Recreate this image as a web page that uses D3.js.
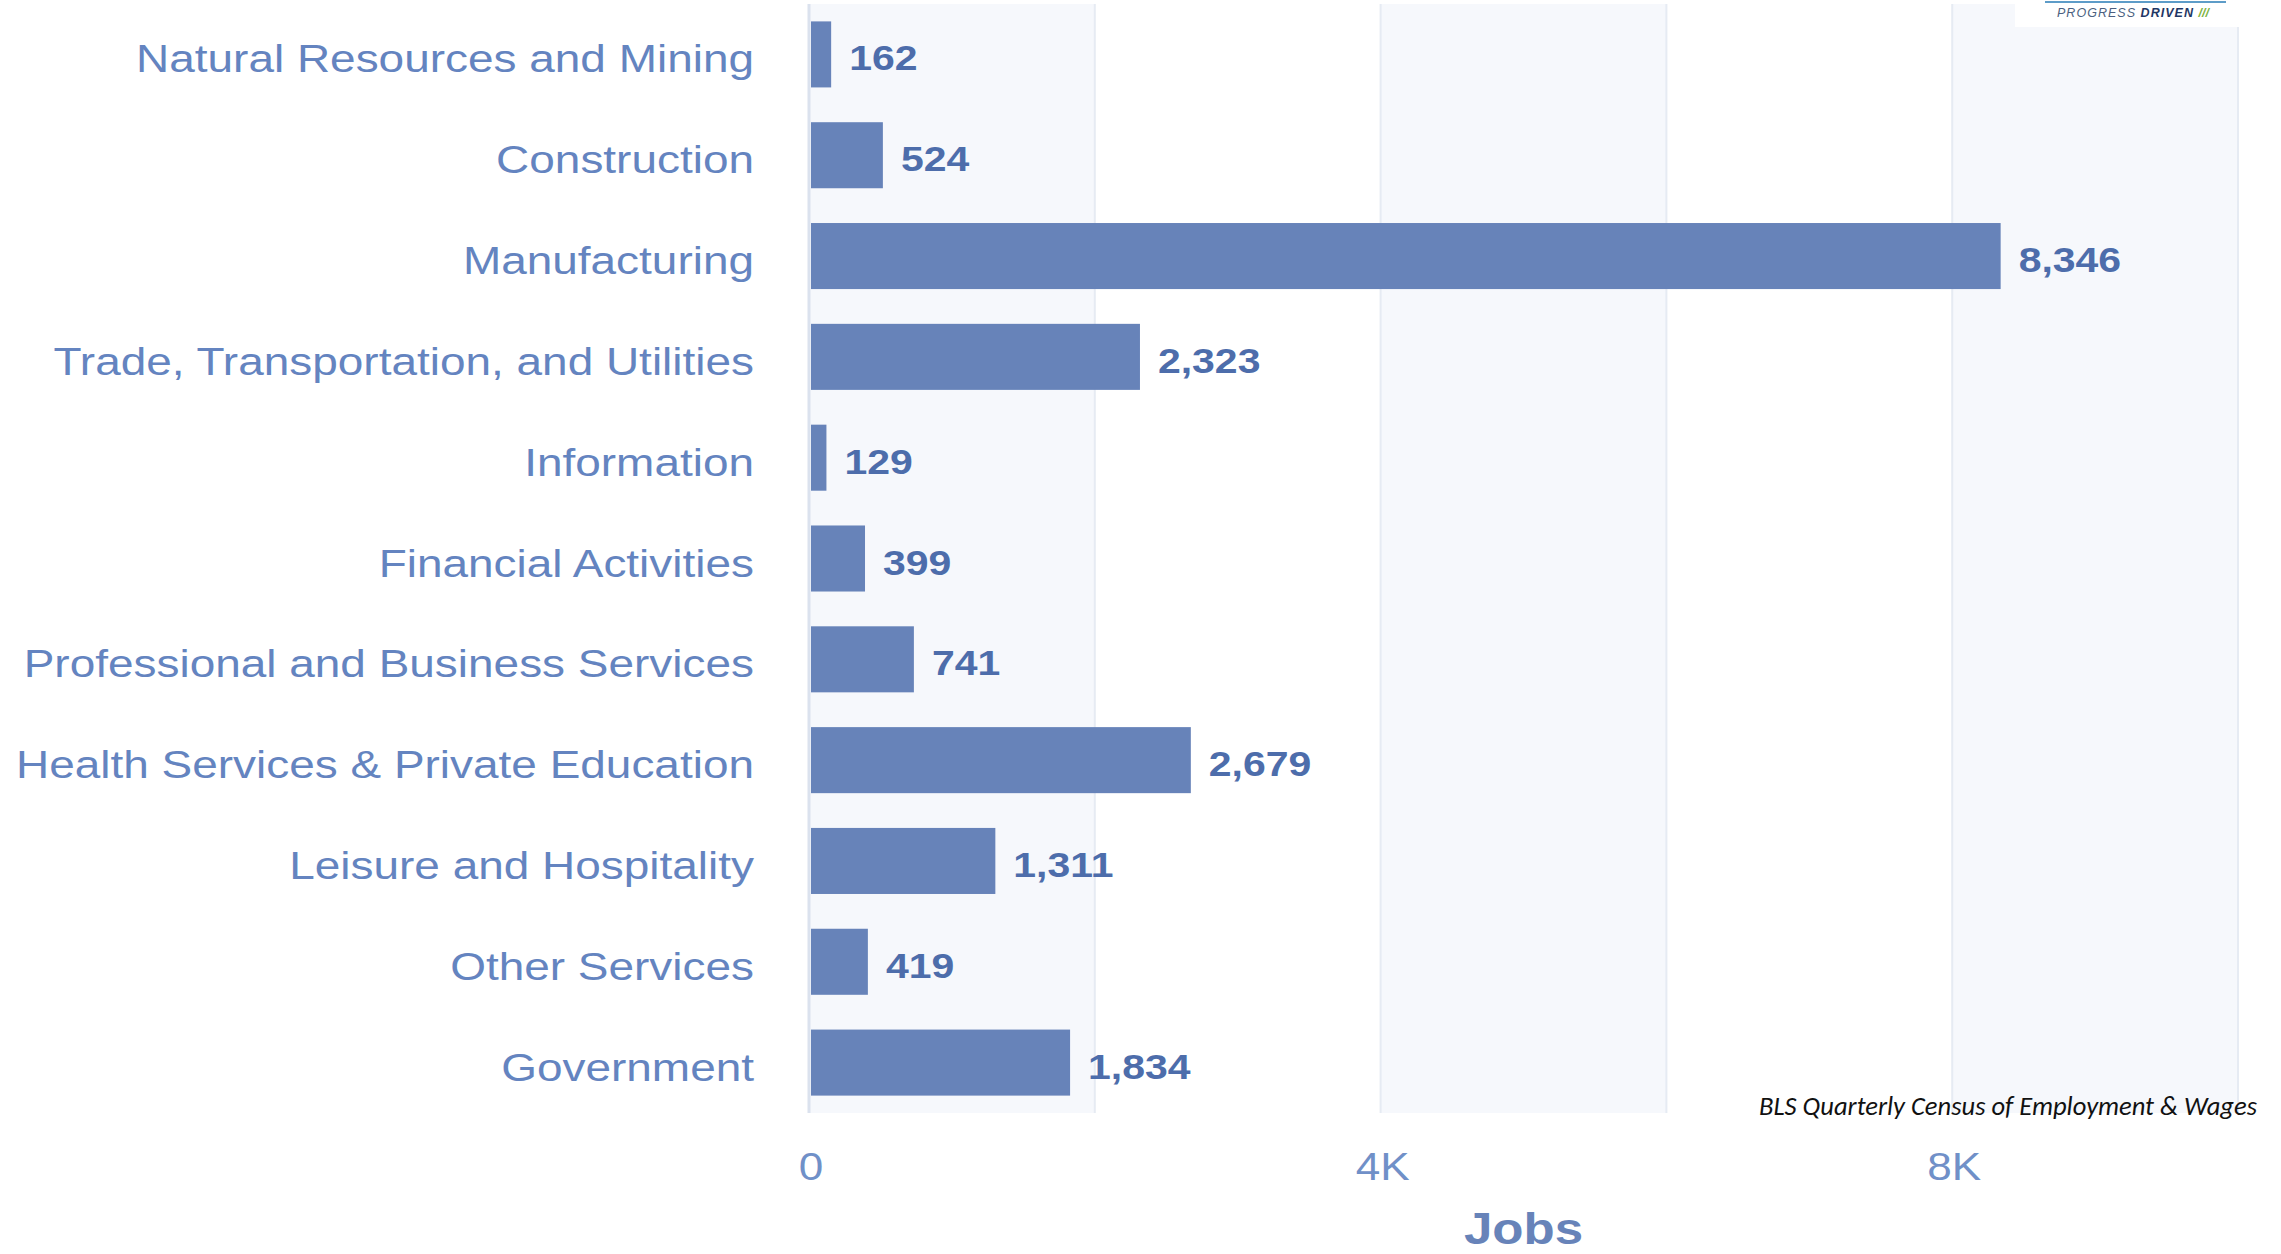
<!DOCTYPE html>
<html>
<head>
<meta charset="utf-8">
<script src="https://cdn.jsdelivr.net/npm/d3@7"></script>
<style>
  html, body { margin: 0; padding: 0; background: #fff; }
  svg { display: block; }
</style>
</head>
<body>
<div id="wrapper"></div>
<script>
// data
const categories = [
  "Natural Resources and Mining",
  "Construction",
  "Manufacturing",
  "Trade, Transportation, and Utilities",
  "Information",
  "Financial Activities",
  "Professional and Business Services",
  "Health Services & Private Education",
  "Leisure and Hospitality",
  "Other Services",
  "Government"
]
const jobs = [162, 524, 8346, 2323, 129, 399, 741, 2679, 1311, 419, 1834]
const gridValues = [0, 2000, 4000, 6000, 8000, 10000]
const tickValues = [0, 4000, 8000]
const tickLabels = ["0", "4K", "8K"]
const axisTitle = "Jobs"
const sourceNote = "BLS Quarterly Census of Employment & Wages"

const width = 2281
const height = 1254
const stretch = 1.16   // text in the original is widened horizontally

let dimensions = {
  width: width,
  height: height,
  left: 809,
  right: 2238,
  top: 4,
  bottom: 1113,
}

const wrapper = d3.select("#wrapper")
  .append("svg")
  .attr("width", dimensions.width)
  .attr("height", dimensions.height)

const xScaler = d3.scaleLinear()
  .domain([0, 10000])
  .range([dimensions.left, dimensions.right])

const yScaler = d3.scaleBand()
  .domain(categories)
  .range([dimensions.top, dimensions.bottom])
  .paddingInner(0.345)
  .paddingOuter(0.1725)

const wide = (x, y, s = stretch) => `translate(${x},${y}) scale(${s},1)`

// alternating background bands
const bands = d3.pairs(gridValues).filter((d, i) => i % 2 === 0)
wrapper.append("g")
  .selectAll("rect")
  .data(bands)
  .join("rect")
  .attr("x", d => xScaler(d[0]))
  .attr("width", d => xScaler(d[1]) - xScaler(d[0]))
  .attr("y", dimensions.top)
  .attr("height", dimensions.bottom - dimensions.top)
  .attr("fill", "#f6f8fc")

// grid lines
wrapper.append("g")
  .selectAll("line")
  .data(gridValues)
  .join("line")
  .attr("x1", d => xScaler(d))
  .attr("x2", d => xScaler(d))
  .attr("y1", dimensions.top)
  .attr("y2", dimensions.bottom)
  .attr("stroke", d => d === 0 ? "#dbe2ee" : "#e6ebf3")
  .attr("stroke-width", d => d === 0 ? 3 : 2)

// bars
wrapper.append("g")
  .selectAll("rect")
  .data(jobs)
  .join("rect")
  .attr("x", xScaler(0) + 2)
  .attr("y", (d, i) => yScaler(categories[i]))
  .attr("width", d => xScaler(d) - xScaler(0) - 3)
  .attr("height", yScaler.bandwidth())
  .attr("fill", "#6783b9")

// value labels
const fmt = d3.format(",")
wrapper.append("g")
  .selectAll("text")
  .data(jobs)
  .join("text")
  .attr("transform", (d, i) => wide(xScaler(d) + 17, yScaler(categories[i]) + yScaler.bandwidth() / 2 + 16, 1.17))
  .attr("font-family", "'Liberation Sans', Arial, sans-serif")
  .attr("font-weight", "bold")
  .attr("font-size", 35)
  .attr("fill", "#4d6dab")
  .text(d => fmt(d))

// category labels
wrapper.append("g")
  .selectAll("text")
  .data(categories)
  .join("text")
  .attr("transform", d => wide(754, yScaler(d) + yScaler.bandwidth() / 2 + 18, 1.178))
  .attr("text-anchor", "end")
  .attr("font-family", "'Liberation Sans', Arial, sans-serif")
  .attr("font-size", 39)
  .attr("fill", "#6484c0")
  .text(d => d)

// x tick labels
wrapper.append("g")
  .selectAll("text")
  .data(tickValues)
  .join("text")
  .attr("transform", d => wide(xScaler(d) + 2, 1180))
  .attr("text-anchor", "middle")
  .attr("font-family", "'Liberation Sans', Arial, sans-serif")
  .attr("font-size", 38)
  .attr("fill", "#7090c8")
  .text((d, i) => tickLabels[i])

// axis title
wrapper.append("text")
  .attr("transform", wide((dimensions.left + dimensions.right) / 2, 1244))
  .attr("text-anchor", "middle")
  .attr("font-family", "'Liberation Sans', Arial, sans-serif")
  .attr("font-weight", "bold")
  .attr("font-size", 44)
  .attr("fill", "#6783b9")
  .text(axisTitle)

// source note
wrapper.append("text")
  .attr("x", 1759)
  .attr("y", 1115)
  .attr("textLength", 498)
  .attr("lengthAdjust", "spacingAndGlyphs")
  .attr("font-family", "Carlito, 'Open Sans', sans-serif")
  .attr("font-style", "italic")
  .attr("font-size", 27)
  .attr("fill", "#111")
  .text(sourceNote)

// logo in the corner
const logo = wrapper.append("g")
logo.append("rect")
  .attr("x", 2015).attr("y", 0)
  .attr("width", 230).attr("height", 27)
  .attr("fill", "#fff")
logo.append("line")
  .attr("x1", 2045).attr("x2", 2226)
  .attr("y1", 2).attr("y2", 2)
  .attr("stroke", "#5d9cc8")
  .attr("stroke-width", 2)
const logoText = logo.append("text")
  .attr("x", 2057).attr("y", 17)
  .attr("textLength", 152)
  .attr("lengthAdjust", "spacingAndGlyphs")
  .attr("font-family", "'Liberation Sans', Arial, sans-serif")
  .attr("font-style", "italic")
  .attr("font-size", 12)
logoText.append("tspan").attr("fill", "#4b5f80").attr("letter-spacing", 1).text("PROGRESS ")
logoText.append("tspan").attr("fill", "#1f3765").attr("font-weight", "bold").attr("letter-spacing", 1).text("DRIVEN ")
logoText.append("tspan").attr("fill", "#7cb342").attr("font-weight", "bold").text("///")
</script>
</body>
</html>
